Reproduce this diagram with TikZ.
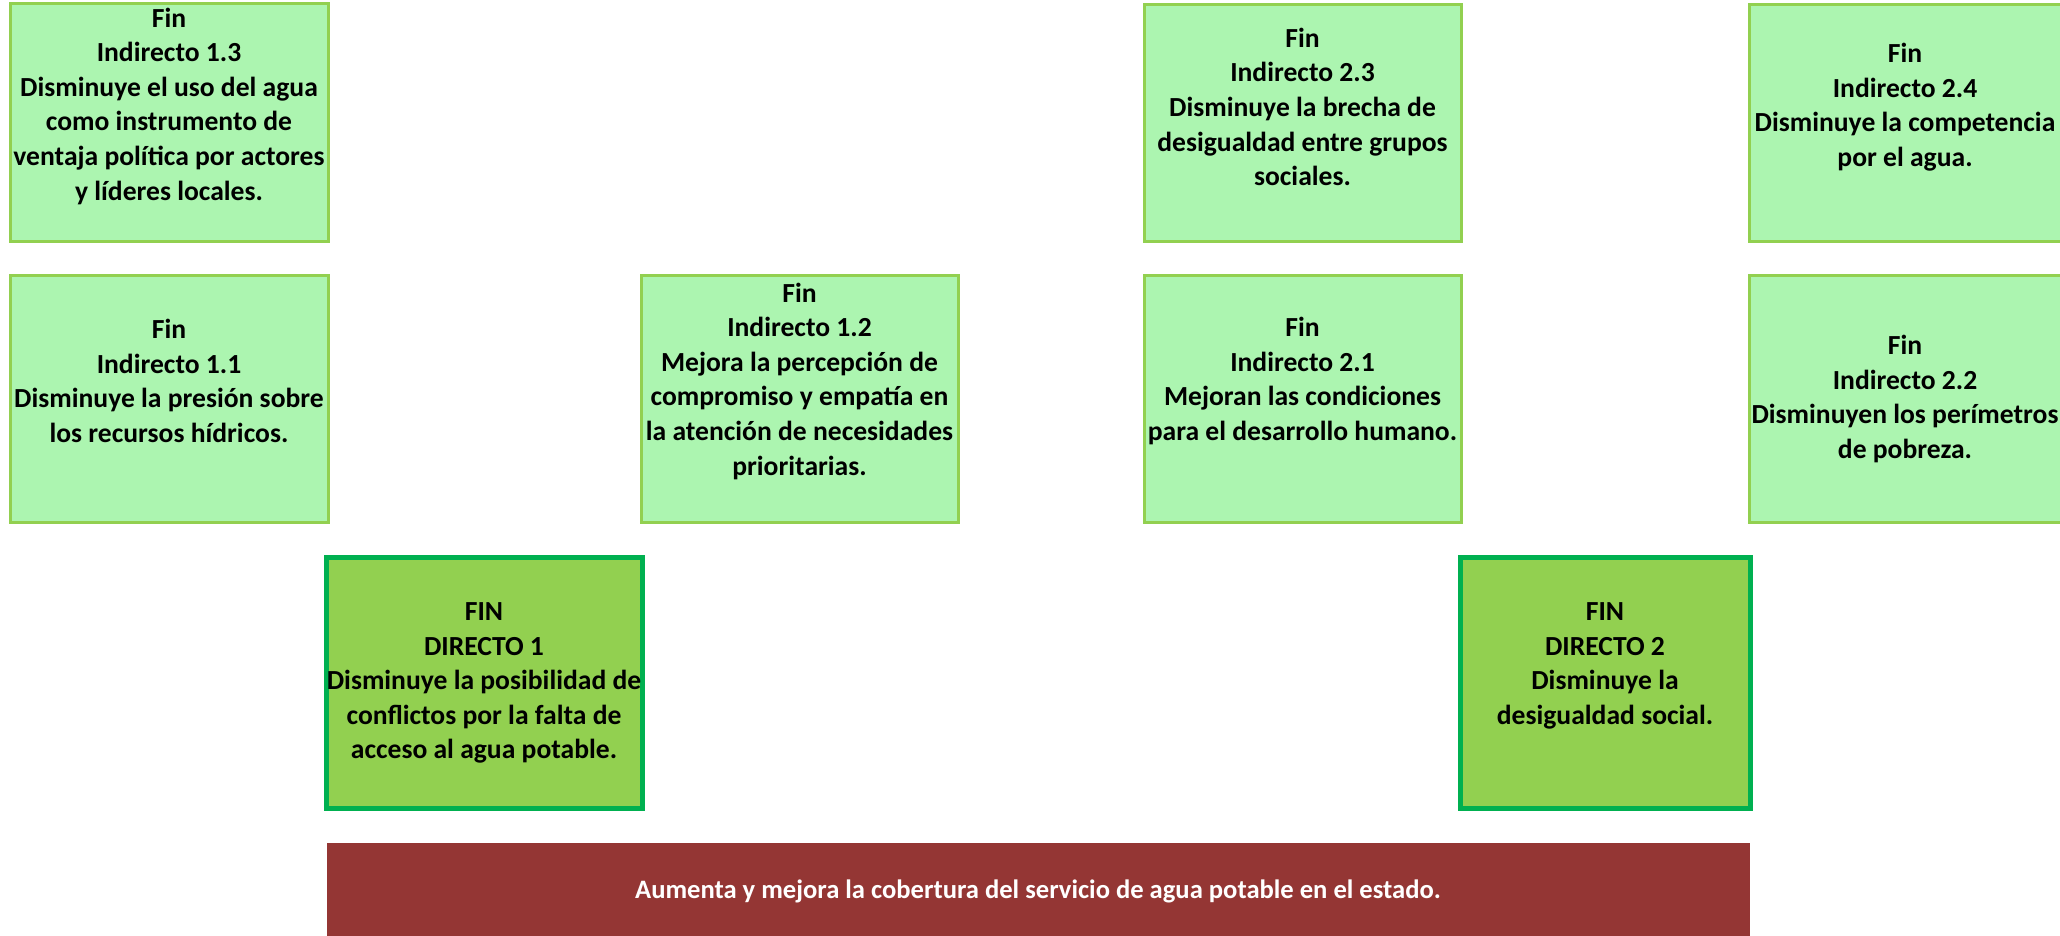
\documentclass[tikz,border=0pt]{standalone}
\usepackage{fontspec}
\setmainfont{Carlito}
\definecolor{indfill}{RGB}{172,245,176}
\definecolor{indline}{RGB}{146,208,80}
\definecolor{dirfill}{RGB}{146,208,80}
\definecolor{dirline}{RGB}{0,176,80}
\definecolor{barfill}{RGB}{148,54,52}
\begin{document}
\begin{tikzpicture}[x=1pt,y=-1pt,
  indbox/.style={draw=indline, fill=indfill, line width=3pt, rectangle, inner sep=0pt},
  dirbox/.style={draw=dirline, fill=dirfill, line width=5pt, rectangle, inner sep=0pt},
  barbox/.style={fill=barfill, rectangle, inner sep=0pt},
  txt/.style={align=center, font=\fontsize{27.6}{34.6}\selectfont\bfseries, text=black, inner sep=0pt},
  bartxt/.style={align=center, font=\fontsize{26.6}{30}\selectfont\bfseries, text=white, inner sep=0pt}]
\useasboundingbox (0,0) rectangle (2060,936);
% boxes
\node[indbox, minimum width=318, minimum height=237] (i13) at (169,122.5) {};
\node[indbox, minimum width=318, minimum height=247] (i11) at (169,398.5) {};
\node[indbox, minimum width=317, minimum height=247] (i12) at (799.5,398.5) {};
\node[indbox, minimum width=317, minimum height=236] (i23) at (1302.5,123) {};
\node[indbox, minimum width=317, minimum height=247] (i21) at (1302.5,398.5) {};
\node[indbox, minimum width=314, minimum height=236] (i24) at (1906,123) {};
\node[indbox, minimum width=314, minimum height=247] (i22) at (1906,398.5) {};
\node[dirbox, minimum width=316, minimum height=251] (d1) at (484,682.5) {};
\node[dirbox, minimum width=290, minimum height=251] (d2) at (1605,682.5) {};
\node[barbox, minimum width=1423, minimum height=95] (bar) at (1038.5,890.5) {};
% texts
\node[txt] (t13) at (169,106) {Fin\\Indirecto 1.3\\Disminuye el uso del agua\\como instrumento de\\ventaja política por actores\\y líderes locales.};
\node[txt] (t11) at (169,381) {Fin\\Indirecto 1.1\\Disminuye la presión sobre\\los recursos hídricos.};
\node[txt] (t12) at (799.5,381) {Fin\\Indirecto 1.2\\Mejora la percepción de\\compromiso y empatía en\\la atención de necesidades\\prioritarias.};
\node[txt] (t23) at (1302.5,107) {Fin\\Indirecto 2.3\\Disminuye la brecha de\\desigualdad entre grupos\\sociales.};
\node[txt] (t21) at (1302.5,381) {Fin\\Indirecto 2.1\\Mejoran las condiciones\\para el desarrollo humano.};
\node[txt] (t24) at (1905,107) {Fin\\Indirecto 2.4\\Disminuye la competencia\\por el agua.};
\node[txt] (t22) at (1905,399) {Fin\\Indirecto 2.2\\Disminuyen los perímetros\\de pobreza.};
\node[txt] (td1) at (484,683) {FIN\\DIRECTO 1\\Disminuye la posibilidad de\\conflictos por la falta de\\acceso al agua potable.};
\node[txt] (td2) at (1605,666) {FIN\\DIRECTO 2\\Disminuye la\\desigualdad social.};
\node[bartxt] (tbar) at (1038,891) {Aumenta y mejora la cobertura del servicio de agua potable en el estado.};
\end{tikzpicture}
\end{document}
